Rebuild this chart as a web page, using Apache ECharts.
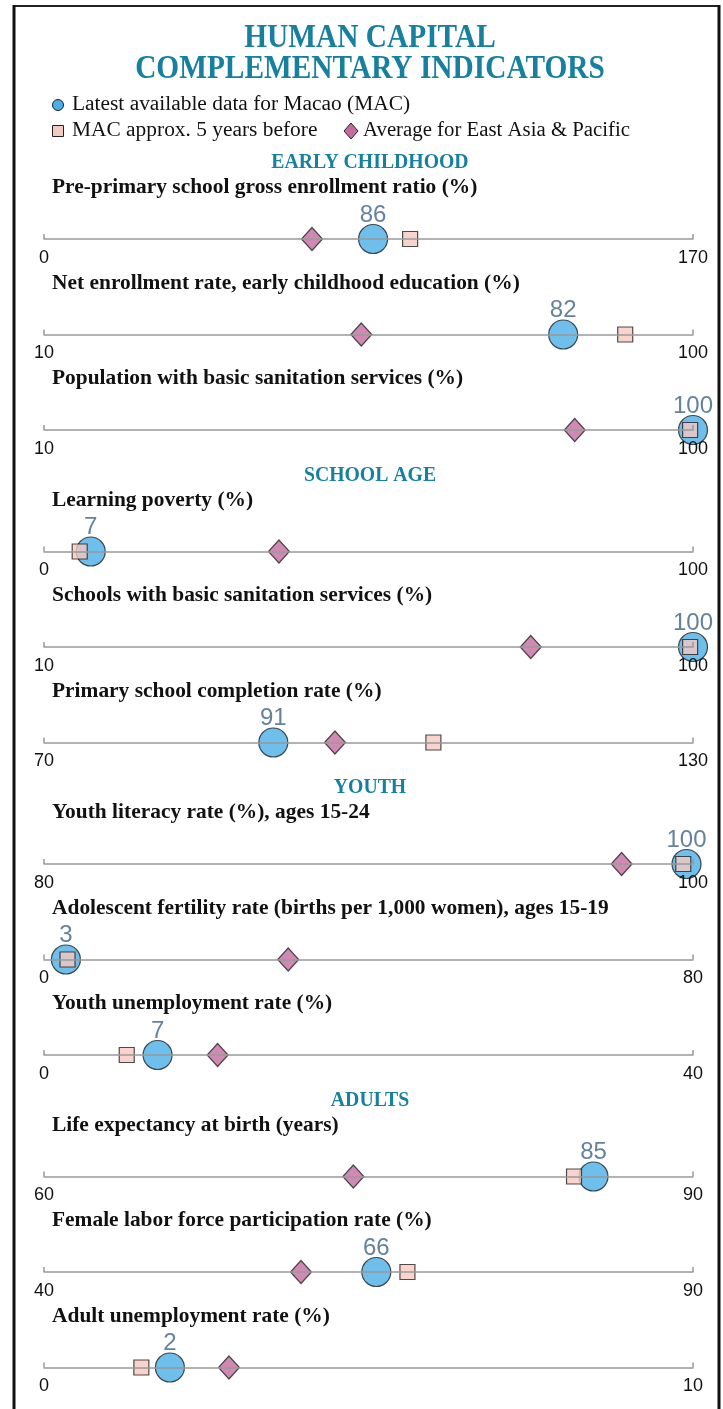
<!DOCTYPE html>
<html>
<head>
<meta charset="utf-8">
<script src="https://cdn.jsdelivr.net/npm/echarts@6/dist/echarts.min.js"></script>
<style>
    html, body { margin: 0; padding: 0; background: #fff; }
    #chart { width: 723px; height: 1409px; }
</style>
</head>
<body>
<div id="chart"></div>
<script>
// 指标名称
const indicators = [
    'Pre-primary school gross enrollment ratio (%)',
    'Net enrollment rate, early childhood education (%)',
    'Population with basic sanitation services (%)',
    'Learning poverty (%)',
    'Schools with basic sanitation services (%)',
    'Primary school completion rate (%)',
    'Youth literacy rate (%), ages 15-24',
    'Adolescent fertility rate (births per 1,000 women), ages 15-19',
    'Youth unemployment rate (%)',
    'Life expectancy at birth (years)',
    'Female labor force participation rate (%)',
    'Adult unemployment rate (%)'
]
const sections = ['EARLY CHILDHOOD', 'SCHOOL AGE', 'YOUTH', 'ADULTS']
const sectionStart = [0, 3, 6, 9]

// 坐标轴两端刻度
const axisMin = [0, 10, 10, 0, 10, 70, 80, 0, 0, 60, 40, 0]
const axisMax = [170, 100, 100, 100, 100, 130, 100, 80, 40, 90, 90, 10]

// 数据
const macLatest = [86.2, 82, 100, 7.2, 100, 91.2, 99.8, 2.7, 7, 85.4, 65.6, 1.94]
const mac5yr = [95.9, 90.6, 99.6, 5.5, 99.6, 106, 99.7, 2.9, 5.1, 84.5, 68, 1.5]
const eapAvg = [70.2, 54, 83.6, 36.2, 77.5, 96.9, 97.8, 30.1, 10.7, 74.3, 59.8, 2.85]

const legendNames = [
    'Latest available data for Macao (MAC)',
    'MAC approx. 5 years before',
    'Average for East Asia & Pacific'
]

const teal = '#17809f'
const circleColor = '#4aafe7'
const squareColor = '#f6c9c0'
const diamondColor = '#c46c9f'
const edge = '#222'
const serif = '"Liberation Serif", "Times New Roman", serif'
const sans = '"Liberation Sans", Arial, sans-serif'

// 每一行轴线的位置
function lineY(i) {
    let sec = 0
    sectionStart.forEach((s, k) => { if (i >= s) sec = k })
    return 239 + i * 95.5 + sec * 26
}

const grids = []
const xAxes = []
const yAxes = []
const series = []
const graphics = []

indicators.forEach((name, i) => {
    const y = lineY(i)
    grids.push({ left: 44, right: 30, top: y - 20, height: 20 })
    xAxes.push({
        gridIndex: i,
        type: 'value',
        min: axisMin[i],
        max: axisMax[i],
        position: 'bottom',
        z: 5,
        axisLine: { show: true, lineStyle: { color: '#999', width: 1.5 } },
        axisTick: {
            show: true,
            inside: true,
            length: 5,
            customValues: [axisMin[i], axisMax[i]],
            lineStyle: { color: '#999', width: 1.5 }
        },
        axisLabel: {
            show: true,
            customValues: [axisMin[i], axisMax[i]],
            margin: 10,
            color: '#111',
            fontSize: 18,
            fontFamily: sans
        },
        splitLine: { show: false }
    })
    yAxes.push({ gridIndex: i, type: 'value', min: 0, max: 1, show: false })

    series.push({
        type: 'scatter',
        xAxisIndex: i,
        yAxisIndex: i,
        symbol: 'diamond',
        symbolSize: [21, 23],
        itemStyle: { color: diamondColor, borderColor: edge, borderWidth: 1.2 },
        data: [[eapAvg[i], 0]],
        z: 2
    })
    series.push({
        type: 'scatter',
        xAxisIndex: i,
        yAxisIndex: i,
        symbol: 'circle',
        symbolSize: 29,
        itemStyle: { color: circleColor, borderColor: edge, borderWidth: 1.2 },
        label: {
            show: true,
            position: 'top',
            distance: -3,
            formatter: p => Math.round(p.value[0]),
            fontSize: 24,
            fontFamily: sans,
            color: '#3e6384'
        },
        data: [[macLatest[i], 0]],
        z: 3
    })
    series.push({
        type: 'scatter',
        xAxisIndex: i,
        yAxisIndex: i,
        symbol: 'rect',
        symbolSize: 15,
        itemStyle: { color: squareColor, borderColor: edge, borderWidth: 1.2 },
        data: [[mac5yr[i], 0]],
        z: 4
    })

    // 指标标题
    graphics.push({
        type: 'text',
        x: 52,
        y: y - 51,
        scaleX: 1.02,
        originX: 0,
        style: {
            text: name,
            font: 'bold 21px ' + serif,
            fill: '#111',
            textAlign: 'left',
            textVerticalAlign: 'middle'
        }
    })
})

// 分组标题
sections.forEach((s, k) => {
    graphics.push({
        type: 'text',
        x: 370,
        y: lineY(sectionStart[k]) - 76,
        scaleX: 0.94,
        originX: 0,
        style: {
            text: s,
            font: 'bold 21px ' + serif,
            fill: teal,
            textAlign: 'center',
            textVerticalAlign: 'middle'
        }
    })
})

// 大标题
;['HUMAN CAPITAL', 'COMPLEMENTARY INDICATORS'].forEach((t, k) => {
    graphics.push({
        type: 'text',
        x: 370,
        y: 38 + k * 31,
        scaleX: 0.89,
        originX: 0,
        style: {
            text: t,
            font: 'bold 33px ' + serif,
            fill: teal,
            textAlign: 'center',
            textVerticalAlign: 'middle'
        }
    })
})

// 图例
graphics.push(
    { type: 'circle', shape: { cx: 58, cy: 105, r: 5.5 }, style: { fill: circleColor, stroke: edge, lineWidth: 1 } },
    { type: 'text', x: 72, y: 105, scaleX: 1.07, style: { text: legendNames[0], font: '20px ' + serif, fill: '#111', textVerticalAlign: 'middle' } },
    { type: 'rect', shape: { x: 52.5, y: 125.5, width: 11, height: 11 }, style: { fill: squareColor, stroke: edge, lineWidth: 1 } },
    { type: 'text', x: 72, y: 131, scaleX: 1.07, style: { text: legendNames[1], font: '20px ' + serif, fill: '#111', textVerticalAlign: 'middle' } },
    { type: 'polygon', shape: { points: [[351, 123], [358, 131], [351, 139], [344, 131]] }, style: { fill: diamondColor, stroke: edge, lineWidth: 1 } },
    { type: 'text', x: 363, y: 131, scaleX: 1.04, style: { text: legendNames[2], font: '20px ' + serif, fill: '#111', textVerticalAlign: 'middle' } }
)

// 外框
graphics.push(
    { type: 'line', shape: { x1: 13, y1: 6, x2: 720, y2: 6 }, style: { stroke: '#222', lineWidth: 2 } },
    { type: 'line', shape: { x1: 14, y1: 5, x2: 14, y2: 1409 }, style: { stroke: '#111', lineWidth: 3 } },
    { type: 'line', shape: { x1: 719, y1: 5, x2: 719, y2: 1409 }, style: { stroke: '#111', lineWidth: 3 } }
)

const chart = echarts.init(document.getElementById('chart'))
chart.setOption({
    backgroundColor: '#fff',
    animation: false,
    grid: grids,
    xAxis: xAxes,
    yAxis: yAxes,
    series: series,
    graphic: graphics
})
window.addEventListener('resize', () => chart.resize())
</script>
</body>
</html>
